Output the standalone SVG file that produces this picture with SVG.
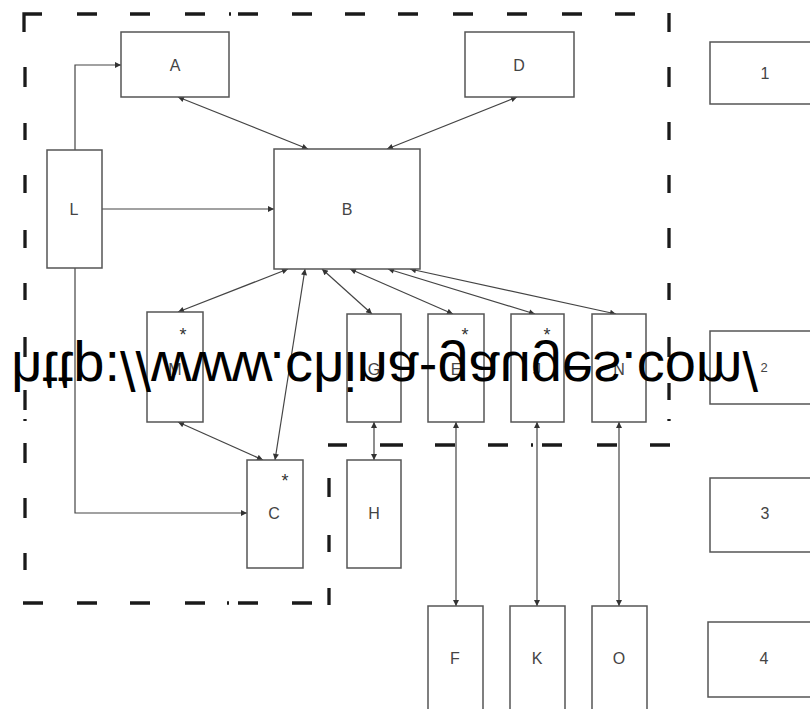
<svg xmlns="http://www.w3.org/2000/svg" width="810" height="709" viewBox="0 0 810 709">
<style>
.box{fill:#fff;stroke:#555;stroke-width:1.5}
.lbl{font-family:"Liberation Sans",Arial,sans-serif;font-size:16px;fill:#444;text-anchor:middle}
.star{font-family:"Liberation Sans",Arial,sans-serif;font-size:18px;fill:#333;text-anchor:middle}
.con{fill:none;stroke:#444;stroke-width:1.2}
.bd{fill:none;stroke:#1a1a1a;stroke-width:3.3}
.wm{font-family:"Liberation Sans",Arial,sans-serif;font-size:56px;fill:#000}
</style>
<defs>
<marker id="ah" viewBox="0 0 10 10" refX="10" refY="5" markerWidth="8" markerHeight="6" orient="auto-start-reverse" markerUnits="userSpaceOnUse">
<path d="M0,0 L10,5 L0,10 z" fill="#333"/>
</marker>
</defs>
<rect width="810" height="709" fill="#fff"/>
<g id="border">
<path class="bd" d="M24,32 V14 H42 M77,14 H97 M130,14 H150 M185,14 H205 M229,14 H231 M238,14 H258 M292,14 H312 M345,14 H365 M398,14 H418 M453,14 H473 M507,14 H527 M562,14 H582 M615,14 H635
M669,13 V32 M669,67 V87 M669,122 V140 M669,175 V193 M669,228 V248 M669,283 V300 M669,337 V357 M669,383 V400 M669,419 V421
M328,445 H347 M380,445 H403 M435,445 H455 M488,445 H508 M531,445 H533 M542,445 H562 M597,445 H617 M650,445 H670
M329,478 V497 M329,535 V552 M329,588 V605
M23,603 H43 M77,603 H97 M130,603 H150 M185,603 H205 M227,603 H229 M238,603 H258 M292,603 H312
M25,67 V87 M25,123 V140 M25,175 V193 M25,230 V248 M25,283 V300 M25,337 V357 M25,390 V410 M25,419 V421 M25,443 V463 M25,498 V518 M25,553 V570"/>
</g>
<g id="connectors">
<path class="con" d="M75,150 V65 H121" marker-end="url(#ah)"/>
<path class="con" d="M102,209 H274" marker-end="url(#ah)"/>
<path class="con" d="M75,268 V513 H247" marker-end="url(#ah)"/>
<path class="con" d="M178,97 L308,149" marker-start="url(#ah)" marker-end="url(#ah)"/>
<path class="con" d="M517,97 L387,149" marker-start="url(#ah)" marker-end="url(#ah)"/>
<path class="con" d="M288,269 L178,312" marker-start="url(#ah)" marker-end="url(#ah)"/>
<path class="con" d="M305,269 L275,460" marker-start="url(#ah)" marker-end="url(#ah)"/>
<path class="con" d="M322,269 L372,314" marker-start="url(#ah)" marker-end="url(#ah)"/>
<path class="con" d="M350,269 L453,314" marker-start="url(#ah)" marker-end="url(#ah)"/>
<path class="con" d="M388,269 L535,314" marker-start="url(#ah)" marker-end="url(#ah)"/>
<path class="con" d="M410,269 L616,314" marker-start="url(#ah)" marker-end="url(#ah)"/>
<path class="con" d="M178,422 L263,460" marker-start="url(#ah)" marker-end="url(#ah)"/>
<path class="con" d="M374,422 V460" marker-start="url(#ah)" marker-end="url(#ah)"/>
<path class="con" d="M456,422 V606" marker-start="url(#ah)" marker-end="url(#ah)"/>
<path class="con" d="M537,422 V606" marker-start="url(#ah)" marker-end="url(#ah)"/>
<path class="con" d="M619,422 V606" marker-start="url(#ah)" marker-end="url(#ah)"/>
</g>
<g id="A"><rect class="box" x="121" y="32" width="108" height="65"/><text class="lbl" x="175" y="71">A</text></g>
<g id="D"><rect class="box" x="465" y="32" width="109" height="65"/><text class="lbl" x="519" y="71">D</text></g>
<g id="L"><rect class="box" x="47" y="150" width="55" height="118"/><text class="lbl" x="74" y="215">L</text></g>
<g id="B"><rect class="box" x="274" y="149" width="146" height="120"/><text class="lbl" x="347" y="215">B</text></g>
<g id="M"><rect class="box" x="147" y="312" width="56" height="110"/><text class="star" x="183" y="341">*</text><text class="lbl" x="175" y="375">M</text></g>
<g id="G"><rect class="box" x="347" y="314" width="54" height="108"/><text class="lbl" x="374" y="375">G</text></g>
<g id="E"><rect class="box" x="428" y="314" width="56" height="108"/><text class="star" x="465" y="341">*</text><text class="lbl" x="456" y="375">E</text></g>
<g id="J"><rect class="box" x="511" y="314" width="53" height="108"/><text class="star" x="547" y="341">*</text><text class="lbl" x="537" y="375">J</text></g>
<g id="N"><rect class="box" x="592" y="314" width="54" height="108"/><text class="lbl" x="619" y="375">N</text></g>
<g id="C"><rect class="box" x="247" y="460" width="56" height="108"/><text class="star" x="285" y="487">*</text><text class="lbl" x="274" y="519">C</text></g>
<g id="H"><rect class="box" x="347" y="460" width="54" height="108"/><text class="lbl" x="374" y="519">H</text></g>
<g id="F"><rect class="box" x="428" y="606" width="55" height="120"/><text class="lbl" x="455" y="664">F</text></g>
<g id="K"><rect class="box" x="510" y="606" width="55" height="120"/><text class="lbl" x="537" y="664">K</text></g>
<g id="O"><rect class="box" x="592" y="606" width="55" height="120"/><text class="lbl" x="619" y="664">O</text></g>
<g id="n1"><rect class="box" x="710" y="42" width="120" height="62"/><text class="lbl" x="765" y="79">1</text></g>
<g id="n2"><rect class="box" x="710" y="331" width="120" height="73"/><text class="lbl" x="764" y="372" style="font-size:13px">2</text></g>
<g id="n3"><rect class="box" x="710" y="478" width="120" height="74"/><text class="lbl" x="765" y="519">3</text></g>
<g id="n4"><rect class="box" x="708" y="622" width="120" height="75"/><text class="lbl" x="764" y="664">4</text></g>
<g id="watermark"><text class="wm" transform="translate(11,352) scale(1,-1)" x="0" y="0">http://www.china-gauges.com/</text></g>
</svg>
